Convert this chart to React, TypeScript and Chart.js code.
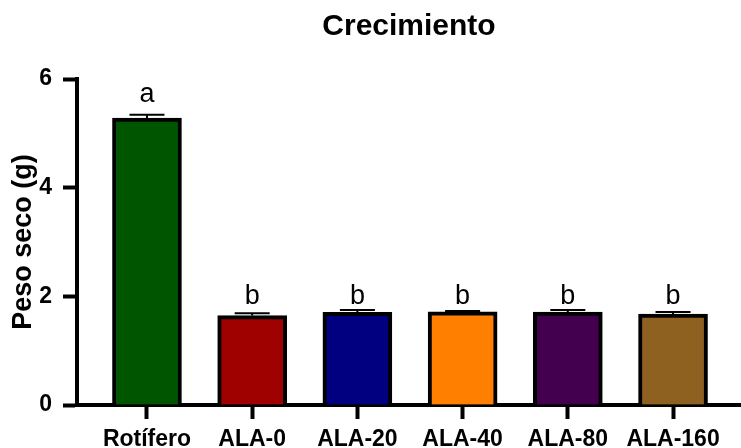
import React, { useEffect, useRef } from 'react';
import { Chart, registerables } from 'chart.js';

Chart.register(...registerables);

const FONT = '"Liberation Sans", Arial, Helvetica, sans-serif';

const categories = ['Rotífero', 'ALA-0', 'ALA-20', 'ALA-40', 'ALA-80', 'ALA-160'];
const means = [5.28, 1.645, 1.705, 1.715, 1.71, 1.675];
const sds = [0.06, 0.045, 0.045, 0.015, 0.04, 0.035];
const letters = ['a', 'b', 'b', 'b', 'b', 'b'];
const letterHeights = [5.58, 1.85, 1.85, 1.85, 1.85, 1.85];
const barColors = ['#005500', '#9F0000', '#000080', '#FF8000', '#42004F', '#8E6121'];
const yTicks = [0, 2, 4, 6];

const errorPlugin = {
  id: 'errorBarsLetters',
  afterDatasetsDraw(chart: any) {
    const ctx = chart.ctx;
    const meta = chart.getDatasetMeta(0);
    const yScale = chart.scales.y;
    ctx.save();
    meta.data.forEach((bar: any, i: number) => {
      const x = bar.x;
      const top = yScale.getPixelForValue(means[i]);
      const cap = yScale.getPixelForValue(means[i] + sds[i]);
      ctx.strokeStyle = '#000';
      ctx.lineWidth = 2;
      ctx.beginPath();
      ctx.moveTo(x, top);
      ctx.lineTo(x, cap);
      ctx.moveTo(x - 17.5, cap);
      ctx.lineTo(x + 17.5, cap);
      ctx.stroke();
      ctx.font = `27px ${FONT}`;
      ctx.textAlign = 'center';
      ctx.textBaseline = 'alphabetic';
      ctx.fillStyle = '#000';
      ctx.fillText(letters[i], x, yScale.getPixelForValue(letterHeights[i]));
    });
    ctx.restore();
  },
};

export default function App() {
  const ref = useRef<HTMLCanvasElement>(null);

  useEffect(() => {
    if (!ref.current) return;
    const chart = new Chart(ref.current, {
      type: 'bar',
      data: {
        datasets: [
          {
            data: means.map((m, i) => ({ x: i, y: m })),
            backgroundColor: barColors,
            borderColor: '#000',
            borderWidth: 4,
            barThickness: 69,
          } as any,
        ],
      },
      options: {
        responsive: false,
        animation: false,
        layout: { padding: 0 },
        plugins: {
          legend: { display: false },
          tooltip: { enabled: false },
          title: {
            display: true,
            text: 'Crecimiento',
            fullSize: false,
            color: '#000',
            font: { family: FONT, size: 30, weight: 'bold' },
            padding: { top: 9, bottom: 34 },
          },
        },
        scales: {
          x: {
            type: 'linear',
            min: -0.665,
            max: 5.646,
            offset: false,
            z: 1,
            afterBuildTicks: (scale: any) => {
              scale.ticks = categories.map((_, i) => ({ value: i }));
            },
            afterFit: (scale: any) => {
              scale.height = 43;
            },
            grid: {
              drawOnChartArea: false,
              offset: false,
              tickLength: 14,
              tickWidth: 4,
              tickColor: '#000',
            },
            border: { display: true, color: '#000', width: 4 },
            ticks: {
              autoSkip: false,
              maxRotation: 0,
              padding: 7,
              color: '#000',
              font: { family: FONT, size: 23, weight: 'bold' },
              callback: (value: any) => categories[Math.round(Number(value))] ?? '',
            },
          },
          y: {
            type: 'linear',
            min: 0,
            max: 6,
            z: 1,
            afterBuildTicks: (scale: any) => {
              scale.ticks = yTicks.map((v) => ({ value: v }));
            },
            afterFit: (scale: any) => {
              scale.width = 77;
            },
            grid: {
              drawOnChartArea: false,
              tickLength: 14,
              tickWidth: 4,
              tickColor: '#000',
            },
            border: { display: true, color: '#000', width: 4 },
            ticks: {
              padding: 11,
              color: '#000',
              font: { family: FONT, size: 23, weight: 'bold' },
              callback: (value: any) => String(value),
            },
            title: {
              display: true,
              text: 'Peso seco (g)',
              color: '#000',
              font: { family: FONT, size: 27, weight: 'bold' },
              padding: { top: 7, bottom: 0 },
            },
          },
        },
      } as any,
      plugins: [errorPlugin],
    });
    return () => chart.destroy();
  }, []);

  return (
    <div style={{ position: 'fixed', left: 0, top: 0, width: 741, height: 448, background: '#fff' }}>
      <canvas ref={ref} width={741} height={448} style={{ display: 'block' }} />
    </div>
  );
}
